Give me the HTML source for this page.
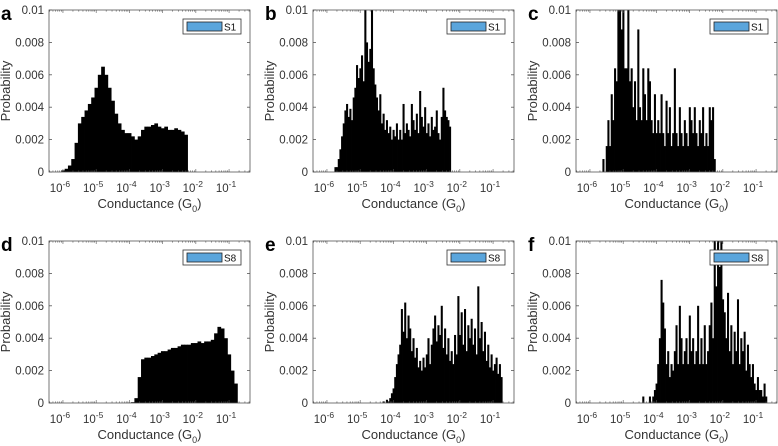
<!DOCTYPE html>
<html><head><meta charset="utf-8"><style>
html,body{margin:0;padding:0;background:#fff;}
svg{display:block;font-family:"Liberation Sans",sans-serif;}
</style></head><body>
<svg id="fig" width="778" height="446" viewBox="0 0 778 446" xmlns="http://www.w3.org/2000/svg"></svg>
<script>
// Histogram data (probability x1000), bins in log10(G/G0)
const aStart=-6.4, aStep=0.1;
const aVals=[0,0,0,0,0.1,0.2,0.4,0.8,1.8,3.0,3.4,3.8,4.2,4.6,5.2,6.0,6.5,6.0,5.2,4.4,3.6,3.0,2.6,2.4,2.4,2.2,2.0,2.2,2.6,2.8,2.8,2.9,3.0,2.8,2.7,2.8,2.6,2.6,2.7,2.6,2.5,2.3];
const bStart=-5.75, bStep=0.05;
const bVals=[0.3,0.3,0.8,1.4,2.2,3.0,3.8,4.2,3.4,3.9,3.2,4.6,5.2,6.6,5.8,6.4,7.2,5.6,10,8.0,6.8,7.6,10,6.4,5.4,4.6,3.8,4.8,3.0,3.6,2.6,3.2,2.4,2.8,2.0,2.6,2.2,3.0,2.0,2.6,2.0,4.2,2.4,3.0,2.6,2.2,4.2,3.2,2.6,3.6,2.4,5.0,3.4,2.8,4.0,2.4,3.0,2.2,3.4,2.6,2.8,3.8,2.4,2.0,3.4,5.2,3.8,3.4,3.2,2.8];
const cStart=-5.6, cStep=0.05;
const cVals=[0.8,0,1.6,3.2,1.6,4.8,3.2,6.4,5.6,10,10,8.8,10,6.4,6.4,10,5.6,6.4,4.0,5.6,3.2,8.8,4.0,3.2,6.4,4.8,3.2,6.4,5.6,3.2,2.4,4.8,2.4,3.2,2.4,4.8,2.4,1.6,4.4,2.4,4.0,1.6,2.4,6.4,2.4,1.6,4.0,2.4,1.6,3.2,2.4,1.6,4.0,3.2,2.4,4.0,2.4,1.6,3.2,2.4,4.0,1.6,2.4,1.6,4.0,3.2,4.0,0.8];
const dStart=-4.0, dStep=0.1;
const dVals=[0.02,0.05,0.3,1.6,2.7,2.8,2.8,2.9,3.0,3.1,3.2,3.2,3.3,3.4,3.4,3.5,3.6,3.6,3.6,3.7,3.7,3.8,3.7,3.8,3.8,3.9,4.3,4.7,4.6,4.0,3.0,2.0,1.2];
const eStart=-4.3, eStep=0.05;
const eVals=[0.1,0,0.2,0.1,0.3,0.6,0.9,1.6,2.4,3.0,3.6,5.8,4.4,6.2,4.0,5.4,4.6,3.2,4.0,2.8,3.4,2.2,2.6,2.0,2.8,2.2,3.0,4.0,2.4,3.6,4.6,5.4,3.8,4.8,4.2,6.0,3.4,4.6,3.0,4.0,2.6,3.2,2.4,4.2,3.0,6.6,4.2,5.6,3.6,5.8,3.2,4.8,4.0,5.2,3.6,4.6,3.0,7.2,4.0,5.0,3.2,4.4,2.6,3.6,2.2,3.0,2.0,2.4,2.8,1.8,2.4,1.6];
const fStart=-4.4, fStep=0.05;
const fVals=[0.4,0,0,0,0.4,0,0.4,0.8,1.2,2.4,4.0,7.6,6.2,4.6,2.4,3.2,1.6,2.4,2.0,3.2,4.8,2.4,6.0,4.0,2.4,3.2,4.0,2.4,5.4,3.2,4.0,2.4,3.2,6.0,2.4,4.0,2.4,4.8,2.4,3.2,4.8,6.2,4.0,10,7.2,10,8.4,10,6.4,5.6,4.0,6.8,3.2,4.8,2.4,4.4,3.2,6.4,2.4,4.0,3.2,4.4,2.0,3.6,2.4,1.6,2.4,1.2,0.8,1.6,0.8,0.8,0.4,1.2,0.4];
const xTickExps=[-6,-5,-4,-3,-2,-1];
const yTickLabels=["0","0.002","0.004","0.006","0.008","0.01"];
const yTickVals=[0,2,4,6,8,10];

const panels=[
 {id:'a',L:49,T:10,vals:aVals,start:aStart,step:aStep,leg:'S1'},
 {id:'b',L:313,T:10,vals:bVals,start:bStart,step:bStep,leg:'S1'},
 {id:'c',L:576,T:10,vals:cVals,start:cStart,step:cStep,leg:'S1'},
 {id:'d',L:49,T:241,vals:dVals,start:dStart,step:dStep,leg:'S8'},
 {id:'e',L:313,T:241,vals:eVals,start:eStart,step:eStep,leg:'S8'},
 {id:'f',L:576,T:241,vals:fVals,start:fStart,step:fStep,leg:'S8'}
];
const W=201,H=162,XMIN=-6.42,XMAX=-0.37;
const NS='http://www.w3.org/2000/svg';
const svg=document.getElementById('fig');
function mk(tag,attrs,parent){const e=document.createElementNS(NS,tag);for(const k in attrs)e.setAttribute(k,attrs[k]);(parent||svg).appendChild(e);return e;}
panels.forEach(p=>{
 const g=mk('g',{});
 
 
 const xs=v=>p.L+(v-XMIN)/(XMAX-XMIN)*W;
 const ys=v=>p.T+H-v/10*H;
 const bars=mk('g',{},g);
 
 
 p.vals.forEach((v,i)=>{
  if(v<=0)return;
  const x0=xs(p.start+i*p.step-p.step/2), x1=xs(p.start+i*p.step+p.step/2);
  const y=ys(Math.min(v,10));
  const r=mk('rect',{x:x0,y:y,width:Math.max(x1-x0,0.6)+0.4,height:p.T+H-y,fill:'#000'},bars);
  
  
 });
 const fr=mk('rect',{x:p.L,y:p.T,width:W,height:H,fill:'none',stroke:'#555','stroke-width':0.8},g);
 
 
 yTickVals.forEach((v,i)=>{
  const y=ys(v);
  mk('line',{x1:p.L,x2:p.L+3,y1:y,y2:y,stroke:'#555','stroke-width':0.8},g);
  mk('line',{x1:p.L+W-3,x2:p.L+W,y1:y,y2:y,stroke:'#555','stroke-width':0.8},g);
  const t=mk('text',{x:p.L-5,y:y+4,'text-anchor':'end','font-size':11.5,fill:'#333'},g);
  t.textContent=yTickLabels[i];
  
  
 });
 for(let d=-7;d<=0;d++){
  for(let m=1;m<10;m++){
   const v=d+Math.log10(m); if(v<XMIN||v>XMAX)continue;
   const x=xs(v), len=m===1?3:1.6;
   mk('line',{x1:x,x2:x,y1:p.T+H,y2:p.T+H-len,stroke:'#555','stroke-width':0.6},g);
   mk('line',{x1:x,x2:x,y1:p.T,y2:p.T+len,stroke:'#555','stroke-width':0.6},g);
  }
 }
 xTickExps.forEach(e=>{
  const t=mk('text',{x:xs(e)-3,y:p.T+H+20,'text-anchor':'middle','font-size':11.5,fill:'#333'},g);
  
  
  t.appendChild(document.createTextNode('10'));
  const s=mk('tspan',{dy:-5,'font-size':8.5},t); s.textContent=String(e);
 });
 const xl=mk('text',{x:p.L+W/2,y:p.T+H+36,'text-anchor':'middle','font-size':13,fill:'#333'},g);
 
 
 xl.appendChild(document.createTextNode('Conductance (G'));
 const sub=mk('tspan',{dy:4,'font-size':9},xl); sub.textContent='0';
 const cl=mk('tspan',{dy:-4},xl); cl.textContent=')';
 const yx=p.L-39, yc=p.T+H/2;
 const yl=mk('text',{x:yx,y:yc,'text-anchor':'middle','font-size':13,fill:'#333',transform:`rotate(-90 ${yx} ${yc})`},g);
 yl.textContent='Probability';
 
 
 const pl=mk('text',{x:p.L-48,y:p.T+10,'font-size':19,'font-weight':'bold',fill:'#000'},g);
 pl.textContent=p.id;
 
 
 const lg=mk('g',{},g);
 
 
 mk('rect',{x:p.L+134,y:p.T+9,width:58,height:15,fill:'#fff',stroke:'#333','stroke-width':0.8},lg);
 mk('rect',{x:p.L+138,y:p.T+12,width:35,height:9,fill:'#5aa5dc',stroke:'#222','stroke-width':0.8},lg);
 const lt=mk('text',{x:p.L+175,y:p.T+20.5,'font-size':10,fill:'#111'},lg);
 lt.textContent=p.leg;
 
 
});
</script>
</body></html>
